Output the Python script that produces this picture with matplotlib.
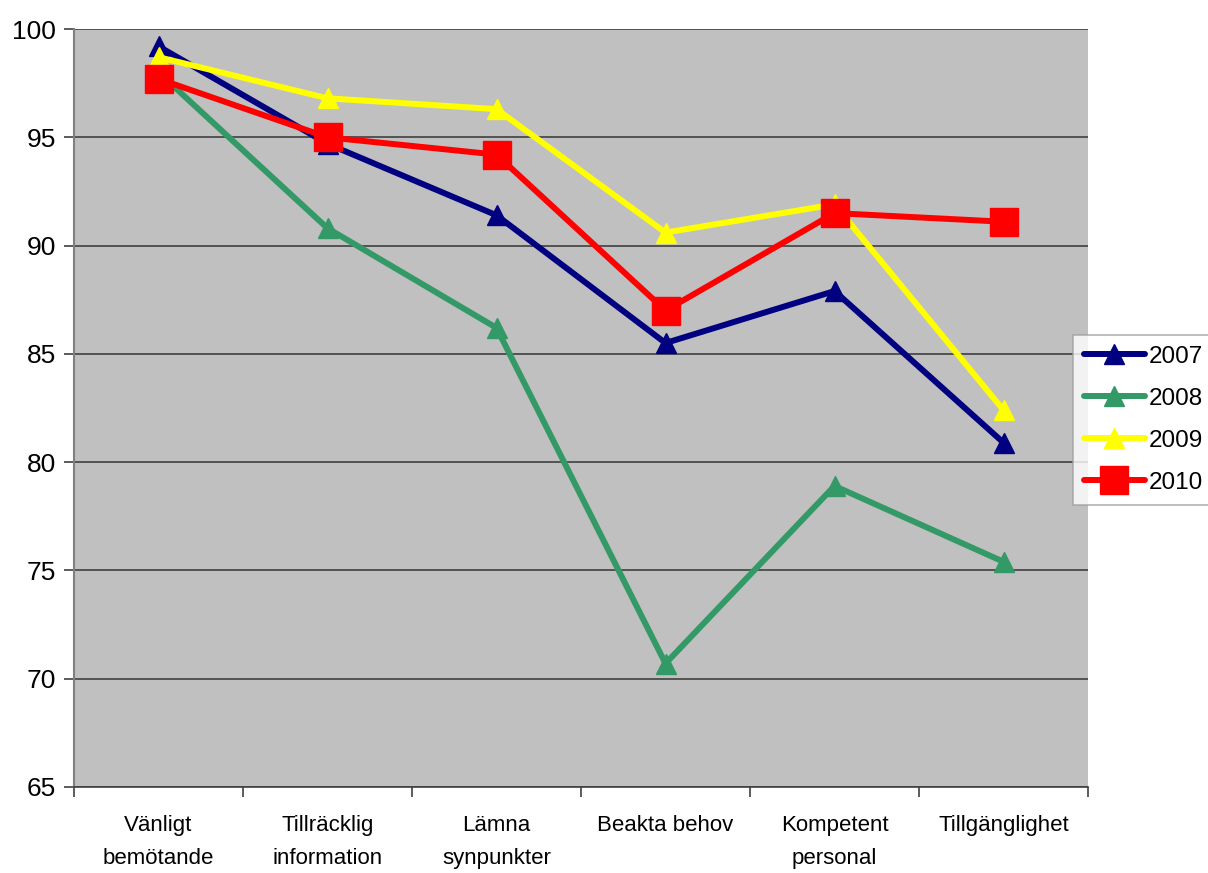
import matplotlib
matplotlib.use("Agg")
import matplotlib.pyplot as plt
import numpy as np

categories = ["Vänligt\nbemötande", "Tillräcklig\ninformation", "Lämna\nsynpunkter",
              "Beakta behov", "Kompetent\npersonal", "Tillgänglighet"]
v2007 = [99.2, 94.7, 91.4, 85.5, 87.9, 80.9]
v2008 = [98.0, 90.8, 86.2, 70.7, 78.9, 75.4]
v2009 = [98.7, 96.8, 96.3, 90.6, 91.9, 82.4]
v2010 = [97.7, 95.0, 94.2, 87.0, 91.5, 91.1]
yticks = [65, 70, 75, 80, 85, 90, 95, 100]

plt.rcParams['font.family'] = ['Liberation Sans', 'DejaVu Sans']

fig = plt.figure(figsize=(12.08, 8.73), dpi=100)
ax = fig.add_axes([74/1208, 86/873, (1088-74)/1208, (787-29)/873])
ax.set_facecolor("#c0c0c0")
x = np.arange(len(categories))

series = [("2007", v2007, "#000080", "^", 15),
          ("2008", v2008, "#339966", "^", 15),
          ("2009", v2009, "#ffff00", "^", 15),
          ("2010", v2010, "#ff0000", "s", 20)]
for name, vals, col, mk, ms in series:
    ax.plot(x, vals, color=col, lw=4.3, marker=mk, markersize=ms,
            markeredgecolor=col, markerfacecolor=col, label=name,
            solid_capstyle='round', clip_on=False, zorder=3)

ax.set_xlim(-0.5, len(categories) - 0.5)
ax.set_ylim(65, 100)
ax.set_yticks(yticks)
ax.set_yticklabels([str(t) for t in yticks], fontsize=19)
ax.yaxis.grid(True, color="#404040", lw=1.2)
ax.set_axisbelow(True)
ax.set_xticks(x)
ax.set_xticklabels(categories, linespacing=1.75, fontsize=16)
ax.tick_params(axis='x', length=0, pad=20)
ax.set_xticks(np.arange(-0.5, len(categories)), minor=True)
ax.tick_params(axis='x', which='minor', length=7, color="#404040", width=1.2)
ax.tick_params(axis='y', length=7, color="#404040", width=1.2, pad=6)
for s in ['top', 'right']:
    ax.spines[s].set_visible(False)
ax.spines['left'].set_color("#808080")
ax.spines['left'].set_linewidth(1.5)
ax.spines['bottom'].set_color("#404040")
ax.spines['bottom'].set_linewidth(1.2)

leg = fig.legend(loc='upper left', bbox_to_anchor=(1073/1208, 1 - 335/873),
                 fontsize=17.5, frameon=True, fancybox=False, handlelength=2.5,
                 borderpad=0.45, labelspacing=0.82, handletextpad=0.15,
                 borderaxespad=0)
leg.get_frame().set_edgecolor("#a0a0a0")
leg.get_frame().set_linewidth(1.2)

fig.savefig("out.png", dpi=100)
